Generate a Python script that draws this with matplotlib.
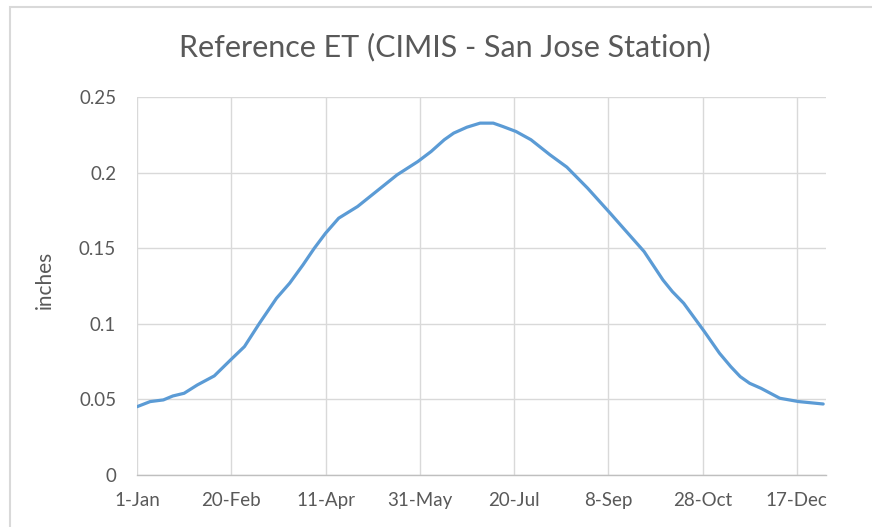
import matplotlib
matplotlib.use("Agg")
import matplotlib.pyplot as plt
from matplotlib.patches import Rectangle

# Day of year and reference ET (inches)
days = [1, 8, 15, 20, 26, 33, 42, 51, 58, 66, 75, 82, 89, 95, 101, 108, 118, 128,
        139, 150, 157, 164, 169, 176, 183, 190, 195, 202, 210, 220, 229, 240, 252,
        259, 270, 280, 285, 291, 302, 310, 316, 321, 326, 332, 342, 352, 365]
et = [0.0452, 0.0486, 0.0497, 0.0523, 0.0541, 0.0596, 0.0656, 0.0766, 0.0850,
      0.1005, 0.1170, 0.1270, 0.1390, 0.1500, 0.1600, 0.1700, 0.1777, 0.1877,
      0.1987, 0.2075, 0.2141, 0.2219, 0.2263, 0.2302, 0.2329, 0.2329, 0.2307,
      0.2274, 0.2219, 0.2120, 0.2038, 0.1899, 0.1733, 0.1634, 0.1479, 0.1291,
      0.1214, 0.1137, 0.0949, 0.0806, 0.0717, 0.0651, 0.0607, 0.0574, 0.0508,
      0.0486, 0.0470]

tick_days = [1, 51, 101, 151, 201, 251, 301, 351]
tick_labels = ["1-Jan", "20-Feb", "11-Apr", "31-May", "20-Jul", "8-Sep", "28-Oct", "17-Dec"]
y_ticks = [0, 0.05, 0.1, 0.15, 0.2, 0.25]
y_labels = ["0", "0.05", "0.1", "0.15", "0.2", "0.25"]

FONT = "Lato"
TXT = "#595959"

fig = plt.figure(figsize=(8.72, 5.27), dpi=100)
fig.patch.set_facecolor("white")
# chart-area border (left and top visible)
fig.patches.append(Rectangle((9.5 / 872, -0.05), 1.1, 1.05 - 6.5 / 527,
                             transform=fig.transFigure, fill=False,
                             edgecolor="#d9d9d9", linewidth=1.5))

ax = fig.add_axes([137 / 872, 1 - 475 / 527, (826 - 137) / 872, (475 - 97.3) / 527])
ax.plot(days, et, color="#5b9bd5", linewidth=2.3, solid_capstyle="round",
        solid_joinstyle="round")

ax.set_xlim(1, 366.5)
ax.set_ylim(0, 0.25)
ax.set_xticks(tick_days)
ax.set_xticklabels(tick_labels, fontfamily=FONT, fontsize=13.5, color=TXT)
ax.set_yticks(y_ticks)
ax.set_yticklabels(y_labels, fontfamily=FONT, fontsize=13.5, color=TXT)
ax.tick_params(length=0, pad=15)
ax.tick_params(axis="x", pad=12)
ax.grid(True, color="#d9d9d9", linewidth=1)
ax.set_axisbelow(True)
for s in ["top", "right", "left"]:
    ax.spines[s].set_visible(False)
ax.spines["bottom"].set_color("#bfbfbf")
ax.spines["bottom"].set_linewidth(1)

fig.text(45 / 872, 1 - 280 / 527, "inches", rotation=90, ha="center", va="center",
         fontfamily=FONT, fontsize=15, color=TXT)
fig.text(445 / 872, 1 - 47 / 527, "Reference ET (CIMIS - San Jose Station)",
         ha="center", va="center", fontfamily=FONT, fontsize=22, color=TXT)

fig.savefig("out.png", dpi=100, facecolor="white")
